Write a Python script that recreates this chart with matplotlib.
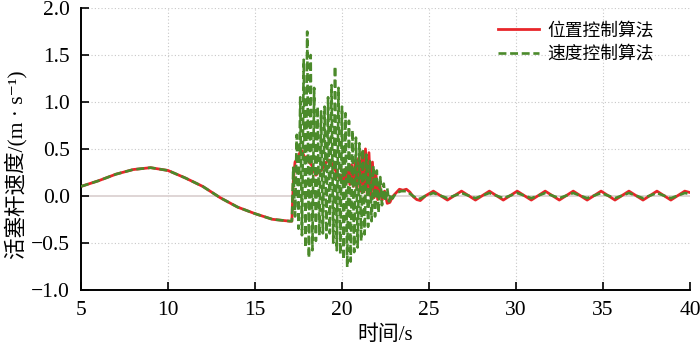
import matplotlib
matplotlib.use("Agg")
import matplotlib.pyplot as plt
from matplotlib.ticker import FuncFormatter

plt.rcParams['font.family'] = ['Liberation Serif', 'Noto Sans CJK SC', 'DejaVu Sans']

# position-control curve
red_t = [5.0, 6.0, 7.0, 8.0, 9.0, 10.0, 11.0, 12.0, 13.0, 14.0, 15.0, 16.0, 17.0, 17.12,
         17.2, 17.3, 17.45, 17.6, 17.7, 17.8, 17.9, 18.0, 18.1, 18.25, 18.4, 18.5, 18.65,
         18.8, 18.95, 19.1, 19.25, 19.4, 19.55, 19.7, 19.85, 19.95, 20.05, 20.15, 20.25,
         20.35, 20.45, 20.55, 20.65, 20.75, 20.85, 20.95, 21.05, 21.15, 21.25, 21.35, 21.45,
         21.55, 21.65, 21.75, 21.85, 21.95, 22.05, 22.15, 22.3, 22.45, 22.6, 22.75, 22.9,
         23.1, 23.3, 23.5, 23.7, 23.9, 24.1, 24.3, 24.5, 24.8, 25.25, 26.06, 26.87, 27.67,
         28.47, 29.27, 30.07, 30.88, 31.68, 32.49, 33.29, 34.09, 34.89, 35.69, 36.49, 37.30,
         38.10, 38.90, 39.70, 40.0]
red_v = [0.10, 0.16, 0.23, 0.28, 0.30, 0.27, 0.19, 0.10, -0.02, -0.12, -0.19, -0.25, -0.27, -0.27,
         0.15, 0.36, 0.40, 0.47, 0.48, 0.43, 0.40, 0.42, 0.36, 0.33, 0.26, 0.22, 0.25,
         0.27, 0.31, 0.36, 0.38, 0.35, 0.30, 0.24, 0.18, 0.22, 0.15, 0.28, 0.14,
         0.30, 0.12, 0.33, 0.10, 0.36, 0.08, 0.40, 0.05, 0.46, 0.04, 0.50, 0.02,
         0.46, 0.00, 0.36, -0.02, 0.24, -0.04, 0.14, -0.05, 0.05, -0.08, -0.07, -0.01,
         0.03, 0.07, 0.06, 0.07, 0.04, -0.01, -0.04, -0.05, 0.00, 0.05, -0.045, 0.05, -0.045,
         0.05, -0.045, 0.05, -0.045, 0.05, -0.045, 0.05, -0.045, 0.05, -0.045, 0.05, -0.045,
         0.05, -0.045, 0.05, 0.035]

# velocity-control curve
green_t = [5.0, 6.0, 7.0, 8.0, 9.0, 10.0, 11.0, 12.0, 13.0, 14.0, 15.0, 16.0, 17.0, 17.12,
           17.2, 17.3, 17.4, 17.5, 17.6, 17.7, 17.8, 17.9, 18.0, 18.1, 18.2, 18.3, 18.4,
           18.5, 18.6, 18.7, 18.8, 18.9, 19.0, 19.1, 19.2, 19.3, 19.4, 19.5, 19.6, 19.7,
           19.8, 19.9, 20.0, 20.1, 20.2, 20.3, 20.4, 20.5, 20.6, 20.7, 20.8, 20.9, 21.0,
           21.1, 21.2, 21.3, 21.4, 21.5, 21.6, 21.7, 21.8, 21.9, 22.0, 22.1, 22.2, 22.3,
           22.4, 22.5, 22.6, 22.7, 22.8, 22.9, 23.1, 23.4, 23.7, 24.0, 24.3, 24.5, 24.8,
           25.25, 26.06, 26.87, 27.67, 28.47, 29.27, 30.07, 30.88, 31.68, 32.49, 33.29,
           34.09, 34.89, 35.69, 36.49, 37.30, 38.10, 38.90, 39.70, 40.0]
green_v = [0.10, 0.16, 0.23, 0.28, 0.30, 0.27, 0.19, 0.10, -0.02, -0.12, -0.19, -0.25, -0.27, -0.27,
           0.30, -0.22, 0.65, -0.35, 1.05, -0.42, 1.45, -0.55, 1.75, -0.66, 1.50, -0.58, 1.15,
           -0.48, 0.95, -0.42, 0.90, -0.40, 0.95, -0.45, 1.05, -0.40, 1.18, -0.50, 1.38, -0.58,
           1.15, -0.62, 0.95, -0.68, 0.88, -0.76, 0.80, -0.70, 0.70, -0.60, 0.62, -0.55, 0.56,
           -0.48, 0.50, -0.41, 0.44, -0.33, 0.37, -0.27, 0.32, -0.22, 0.27, -0.18, 0.20, -0.10,
           0.13, -0.06, 0.08, -0.06, 0.02, -0.03, 0.03, 0.05, 0.05, 0.01, -0.03, -0.03, 0.00,
           0.03, -0.025, 0.03, -0.025, 0.03, -0.025, 0.03, -0.025, 0.03, -0.025, 0.03,
           -0.025, 0.03, -0.025, 0.03, -0.025, 0.03, -0.025, 0.03, 0.02]

labels = ['位置控制算法', '速度控制算法']
x_ticks = [5, 10, 15, 20, 25, 30, 35, 40]
y_ticks = [-1.0, -0.5, 0.0, 0.5, 1.0, 1.5, 2.0]

fig = plt.figure(figsize=(7, 3.52), dpi=100)
ax = fig.add_axes([0.1157, 0.177, 0.87, 0.80])

# grid and zero line
for x in x_ticks[1:-1]:
    ax.axvline(x, color='#c8c8c8', lw=0.8, ls=(0, (1, 2)), zorder=0)
for y in y_ticks:
    if y != 0.0:
        ax.axhline(y, color='#c8c8c8', lw=0.8, ls=(0, (1, 2)), zorder=0)
ax.axhline(0.0, color='#dcd2d2', lw=1.3, zorder=0)

ax.plot(red_t, red_v, color='#e8262a', lw=2.0, label=labels[0], zorder=2)
ax.plot(green_t, green_v, color='#4b8a2b', lw=1.9, ls=(0, (3, 1.4)), label=labels[1], zorder=3)

ax.set_xlim(5, 40)
ax.set_ylim(-1.0, 2.0)
ax.set_xticks(x_ticks)
ax.set_yticks(y_ticks)
ax.yaxis.set_major_formatter(FuncFormatter(lambda v, p: ('%.1f' % v).replace('-', '\u2212')))
ax.tick_params(direction='in', length=6, width=1.2, labelsize=15.5, pad=8)
ax.spines['top'].set_visible(False)
ax.spines['right'].set_visible(False)
ax.spines['left'].set_linewidth(1.4)
ax.spines['bottom'].set_linewidth(1.4)

ax.set_xlabel('时间/s', fontsize=15, labelpad=4)
ax.set_ylabel('活塞杆速度/(m · s\u207b\u00b9)', fontsize=15.5)
ax.yaxis.set_label_coords(-0.088, 0.445)

ax.legend(loc='upper left', bbox_to_anchor=(0.658, 1.005), frameon=False,
          fontsize=12.8, handlelength=2.3, labelspacing=0.35, handletextpad=0.5)

fig.savefig('out.png', dpi=100)
